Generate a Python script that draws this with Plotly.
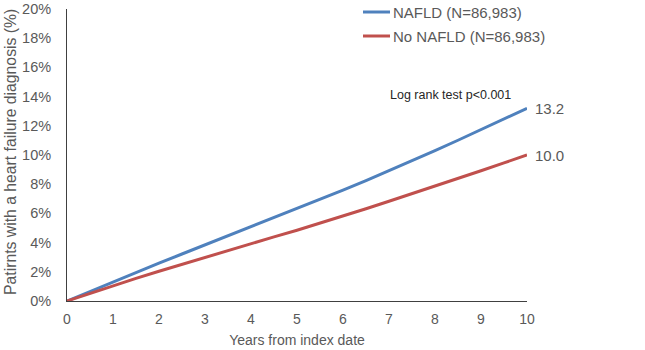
import plotly.graph_objects as go

years = [0, 0.5, 1, 1.5, 2, 2.5, 3, 3.5, 4, 4.5, 5, 5.5, 6, 6.5, 7, 7.5, 8, 8.5, 9, 9.5, 10]
nafld = [0, 0.66, 1.32, 1.96, 2.59, 3.22, 3.84, 4.46, 5.08, 5.69, 6.30, 6.94, 7.59, 8.25, 8.92, 9.60, 10.30, 11.01, 11.73, 12.46, 13.2]
no_nafld = [0, 0.53, 1.05, 1.55, 2.04, 2.52, 2.99, 3.46, 3.93, 4.39, 4.85, 5.33, 5.82, 6.32, 6.83, 7.34, 7.86, 8.39, 8.92, 9.46, 10.0]

y_ticks = [0, 2, 4, 6, 8, 10, 12, 14, 16, 18, 20]
y_tick_labels = [f"{v}%" for v in y_ticks]
x_ticks = list(range(0, 11))

names = ["NAFLD (N=86,983)", "No NAFLD (N=86,983)"]
colors = ["#4F81BD", "#C0504D"]
end_labels = ["13.2", "10.0"]
y_title = "Patirnts with a heart failure diagnosis (%)"
x_title = "Years from index date"

FONT = "Arial, Liberation Sans, sans-serif"
GREY = "#595959"

L, R, T, B = 67, 118, 0, 49
W, H = 645, 350
PH = H - T - B          # paper height in px
PW = W - L - R          # paper width in px


def px_x(fx):
    return (fx - L) / PW


def px_y(fy):
    return (H - B - fy) / PH


fig = go.Figure()
for ys, name, col in zip([nafld, no_nafld], names, colors):
    fig.add_trace(go.Scatter(x=years, y=ys, mode="lines", name=name,
                             line=dict(color=col, width=3), showlegend=False))

# end-point value labels
for ys, lab in zip([nafld, no_nafld], end_labels):
    fig.add_annotation(x=years[-1], y=ys[-1], text=lab, showarrow=False,
                       xanchor="left", xshift=6, font=dict(size=15, color=GREY, family=FONT))

# legend (key lines + text, placed so it can sit above the plot frame)
legend_rows_y = [12, 36]
for name, col, fy in zip(names, colors, legend_rows_y):
    fig.add_shape(type="line", xref="paper", yref="paper",
                  x0=px_x(363), x1=px_x(390), y0=px_y(fy), y1=px_y(fy),
                  line=dict(color=col, width=3))
    fig.add_annotation(x=px_x(391), y=px_y(fy), xref="paper", yref="paper", text=name,
                       showarrow=False, xanchor="left", yanchor="middle",
                       font=dict(size=15, color=GREY, family=FONT))

fig.add_annotation(x=px_x(450), y=px_y(95), xref="paper", yref="paper", text="Log rank test p<0.001",
                   showarrow=False, xanchor="center", yanchor="middle",
                   font=dict(size=12.5, color="#262626", family=FONT))

# y-axis title placed as rotated text
fig.add_annotation(x=px_x(10), y=px_y(152), xref="paper", yref="paper", text=y_title,
                   textangle=-90, showarrow=False, xanchor="center", yanchor="middle",
                   font=dict(size=15.75, color=GREY, family=FONT))

fig.update_layout(
    width=W, height=H,
    margin=dict(l=L, r=R, t=T, b=B, pad=0),
    plot_bgcolor="white", paper_bgcolor="white",
    font=dict(family=FONT, color=GREY, size=14),
    showlegend=False,
    xaxis=dict(range=[0, 10], tickvals=x_ticks, showgrid=False, zeroline=False,
               showline=True, linecolor="#404040", linewidth=1, ticks="", automargin=False,
               tickfont=dict(size=14, color=GREY), ticklabelstandoff=5,
               title=dict(text=x_title, font=dict(size=14, color=GREY), standoff=9)),
    yaxis=dict(range=[0, 20], tickvals=y_ticks, ticktext=y_tick_labels, showgrid=False,
               domain=[0, 1 - 9 / PH], automargin=False,
               zeroline=False, showline=True, linecolor="#404040", linewidth=1, ticks="",
               tickfont=dict(size=14.5, color=GREY), ticklabelstandoff=12),
)

# remove the default 8px page margin so the figure starts at the window's corner
fig.write_html("out.html", config={"displayModeBar": False},
               post_script="document.body.style.margin='0px';")
